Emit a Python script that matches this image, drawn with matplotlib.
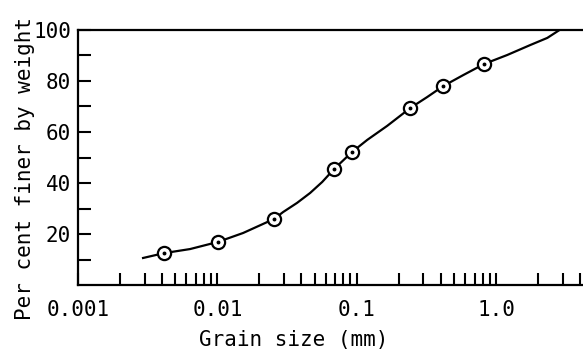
import numpy as np
import matplotlib
matplotlib.use("Agg")
import matplotlib.pyplot as plt
from matplotlib.ticker import FixedLocator, NullFormatter

# measured points (grain size mm, per cent finer)
grain_mm = [0.00414, 0.0101, 0.0255, 0.0688, 0.0927, 0.242, 0.417, 0.822]
pct_finer = [12.5, 16.9, 25.9, 45.5, 52.2, 69.4, 78.0, 86.7]

# grading curve
curve_x = [0.00293, 0.00414, 0.00637, 0.0101, 0.0153, 0.0255, 0.0296, 0.0373,
           0.0463, 0.0565, 0.0688, 0.0927, 0.1189, 0.1653, 0.242, 0.320,
           0.417, 0.580, 0.822, 1.202, 1.757, 2.33, 2.85]
curve_y = [10.6, 12.5, 14.1, 16.9, 20.4, 25.9, 28.6, 32.2,
           36.1, 40.4, 45.5, 52.2, 56.9, 62.4, 69.4, 73.7,
           78.0, 82.3, 86.7, 90.2, 94.1, 96.9, 100.0]

x_major = [0.001, 0.01, 0.1, 1.0]
x_major_labels = ["0.001", "0.01", "0.1", "1.0"]
y_major = [20, 40, 60, 80, 100]
y_minor = [10, 30, 50, 70, 90]

plt.rcParams['font.family'] = ['DejaVu Sans Mono']

fig = plt.figure(figsize=(5.83, 3.52), dpi=100)
ax = fig.add_axes([0.1338, 0.1903, 0.8662, 0.7245])

ax.plot(curve_x, curve_y, color='black', lw=1.6, solid_joinstyle='round', zorder=2)
ax.plot(grain_mm, pct_finer, ls='none', marker='o', ms=9.5, mfc='white',
        mec='black', mew=1.6, zorder=3)
ax.plot(grain_mm, pct_finer, ls='none', marker='o', ms=1.8, mfc='black',
        mec='black', zorder=4)

ax.set_xscale('log')
ax.set_xlim(0.001, 4.2)
ax.set_ylim(0, 100)

minor_x = [m * d for d in [0.001, 0.01, 0.1, 1.0] for m in range(2, 10)]
ax.xaxis.set_major_locator(FixedLocator(x_major))
ax.set_xticklabels(x_major_labels)
ax.xaxis.set_minor_locator(FixedLocator(minor_x))
ax.xaxis.set_minor_formatter(NullFormatter())

ax.set_yticks(y_major)
ax.yaxis.set_minor_locator(FixedLocator(y_minor))

ax.tick_params(axis='both', which='both', direction='in', length=9, width=1.5,
               top=False, right=False, color='black')
ax.tick_params(axis='x', which='major', labelsize=15, pad=11)
ax.tick_params(axis='y', which='major', labelsize=15, pad=5)

for s in ['left', 'bottom', 'top']:
    ax.spines[s].set_linewidth(1.6)
ax.spines['right'].set_visible(False)

fig.text(25 / 583, 0.52, "Per cent finer by weight", rotation=90,
         ha='center', va='center', fontsize=15)
fig.text(294 / 583, 1 - 340 / 352, "Grain size (mm)", ha='center',
         va='center', fontsize=15)

fig.savefig("out.png", dpi=100)
